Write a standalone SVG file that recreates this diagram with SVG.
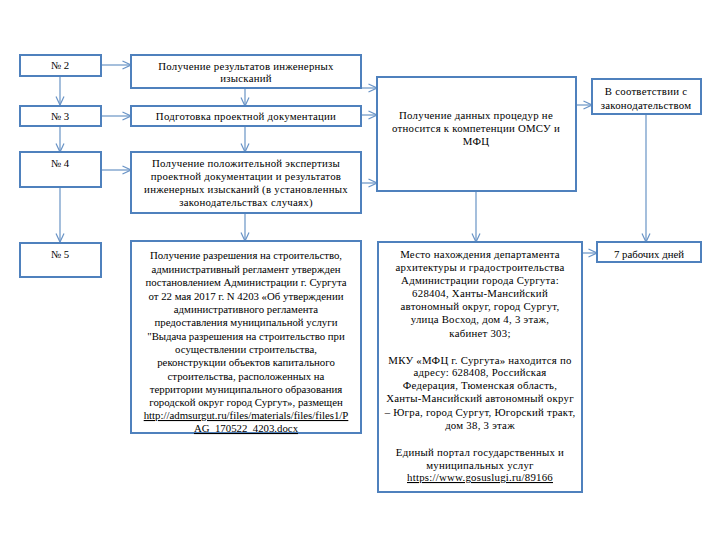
<svg xmlns="http://www.w3.org/2000/svg" width="720" height="540" viewBox="0 0 720 540">
<defs>
<style>
.box{fill:#fff;stroke:#4F81BD;stroke-width:2}
.t{font-family:'Liberation Serif','Times New Roman','DejaVu Serif',serif;font-size:10.8px;fill:#000;text-anchor:middle}
.w{letter-spacing:0.25px}
.u{text-decoration:underline}
.c{fill:none;stroke:#4F81BD;stroke-width:1.2;opacity:0.85}
</style>
<marker id="a" viewBox="0 0 10 10" refX="9.5" refY="5" markerWidth="10" markerHeight="10" markerUnits="userSpaceOnUse" orient="auto">
<path d="M1,1 L9.5,5 L1,9" fill="none" stroke="#4F81BD" stroke-width="1.2"/>
</marker>
</defs>
<rect width="720" height="540" fill="#fff"/>
<g id="connectors">
<path class="c" d="M101,65 H131" marker-end="url(#a)"/>
<path class="c" d="M101,116 H131" marker-end="url(#a)"/>
<path class="c" d="M101,170 H131" marker-end="url(#a)"/>
<path class="c" d="M60,76 V105" marker-end="url(#a)"/>
<path class="c" d="M60,126 V152" marker-end="url(#a)"/>
<path class="c" d="M60,187 V242" marker-end="url(#a)"/>
<path class="c" d="M245,88 V106" marker-end="url(#a)"/>
<path class="c" d="M245,126 V152" marker-end="url(#a)"/>
<path class="c" d="M245,213 V241" marker-end="url(#a)"/>
<path class="c" d="M361,88 H377" marker-end="url(#a)"/>
<path class="c" d="M361,115 H377" marker-end="url(#a)"/>
<path class="c" d="M361,183 H377" marker-end="url(#a)"/>
<path class="c" d="M476,191 V242" marker-end="url(#a)"/>
<path class="c" d="M576,105 H592" marker-end="url(#a)"/>
<path class="c" d="M646,114 V242" marker-end="url(#a)"/>
<path class="c" d="M582,253 H597" marker-end="url(#a)"/>
</g>
<g id="n2"><rect class="box" x="20" y="55" width="81" height="21"/><text class="t" x="60" y="69">№ 2</text></g>
<g id="n3"><rect class="box" x="20" y="106" width="81" height="20"/><text class="t" x="60" y="120">№ 3</text></g>
<g id="n4"><rect class="box" x="20" y="152" width="81" height="35"/><text class="t" x="60" y="167">№ 4</text></g>
<g id="n5"><rect class="box" x="20" y="243" width="81" height="34"/><text class="t" x="60" y="258">№ 5</text></g>
<g id="m1" class="w"><rect class="box" x="131" y="55" width="230" height="33"/>
<text class="t" x="246" y="70">Получение результатов инженерных</text>
<text class="t" x="246" y="82">изысканий</text></g>
<g id="m2" class="w"><rect class="box" x="131" y="106" width="230" height="20"/>
<text class="t" x="246" y="120">Подготовка проектной документации</text></g>
<g id="m3" class="w"><rect class="box" x="131" y="152" width="230" height="61"/>
<text class="t" x="246" y="167">Получение положительной экспертизы</text>
<text class="t" x="246" y="180">проектной документации и результатов</text>
<text class="t" x="246" y="193">инженерных изысканий (в установленных</text>
<text class="t" x="246" y="206">законодательствах случаях)</text></g>
<g id="m4"><rect class="box" x="131" y="241" width="230" height="192"/>
<text class="t" x="246" y="259">Получение разрешения на строительство,</text>
<text class="t" x="246" y="272.5">административный регламент утвержден</text>
<text class="t" x="246" y="286">постановлением Администрации г. Сургута</text>
<text class="t" x="246" y="299.5">от 22 мая 2017 г. N 4203 «Об утверждении</text>
<text class="t" x="246" y="313">административного регламента</text>
<text class="t" x="246" y="326">предоставления муниципальной услуги</text>
<text class="t" x="246" y="339.5">"Выдача разрешения на строительство при</text>
<text class="t" x="246" y="353">осуществлении строительства,</text>
<text class="t" x="246" y="366">реконструкции объектов капитального</text>
<text class="t" x="246" y="379.5">строительства, расположенных на</text>
<text class="t" x="246" y="392.5">территории муниципального образования</text>
<text class="t" x="246" y="405.5">городской округ город Сургут», размещен</text>
<text class="t u" x="246" y="419">http://admsurgut.ru/files/materials/files/files1/P</text>
<text class="t u" x="246" y="432">AG_170522_4203.docx</text></g>
<g id="big" class="w"><rect class="box" x="377" y="77" width="199" height="114"/>
<text class="t" x="476" y="119">Получение данных процедур не</text>
<text class="t" x="476" y="132">относится к компетенции ОМСУ и</text>
<text class="t" x="476" y="145">МФЦ</text></g>
<g id="law" class="w"><rect class="box" x="592" y="79" width="109" height="35"/>
<text class="t" x="646" y="95">В соответствии с</text>
<text class="t" x="646" y="109">законодательством</text></g>
<g id="days"><rect class="box" x="597" y="242" width="104" height="20"/>
<text class="t" x="649" y="257.5">7 рабочих дней</text></g>
<g id="addr" class="w"><rect class="box" x="378" y="242" width="204" height="250"/>
<text class="t" x="480" y="258">Место нахождения  департамента</text>
<text class="t" x="480" y="271">архитектуры и градостроительства</text>
<text class="t" x="480" y="284">Администрации города Сургута:</text>
<text class="t" x="480" y="296.5">628404, Ханты-Мансийский</text>
<text class="t" x="480" y="310">автономный округ, город Сургут,</text>
<text class="t" x="480" y="323">улица  Восход, дом 4, 3 этаж,</text>
<text class="t" x="480" y="336.5">кабинет 303;</text>
<text class="t" x="480" y="363.5">МКУ «МФЦ г. Сургута» находится по</text>
<text class="t" x="480" y="376">адресу:  628408, Российская</text>
<text class="t" x="480" y="389">Федерация, Тюменская область,</text>
<text class="t" x="480" y="402">Ханты-Мансийский автономный округ</text>
<text class="t" x="480" y="415.5">– Югра, город Сургут, Югорский тракт,</text>
<text class="t" x="480" y="428.5">дом 38, 3 этаж</text>
<text class="t" x="480" y="455.5">Единый портал государственных и</text>
<text class="t" x="480" y="468.5">муниципальных услуг</text>
<text class="t u" x="480" y="481">https://www.gosuslugi.ru/89166</text></g>
</svg>
